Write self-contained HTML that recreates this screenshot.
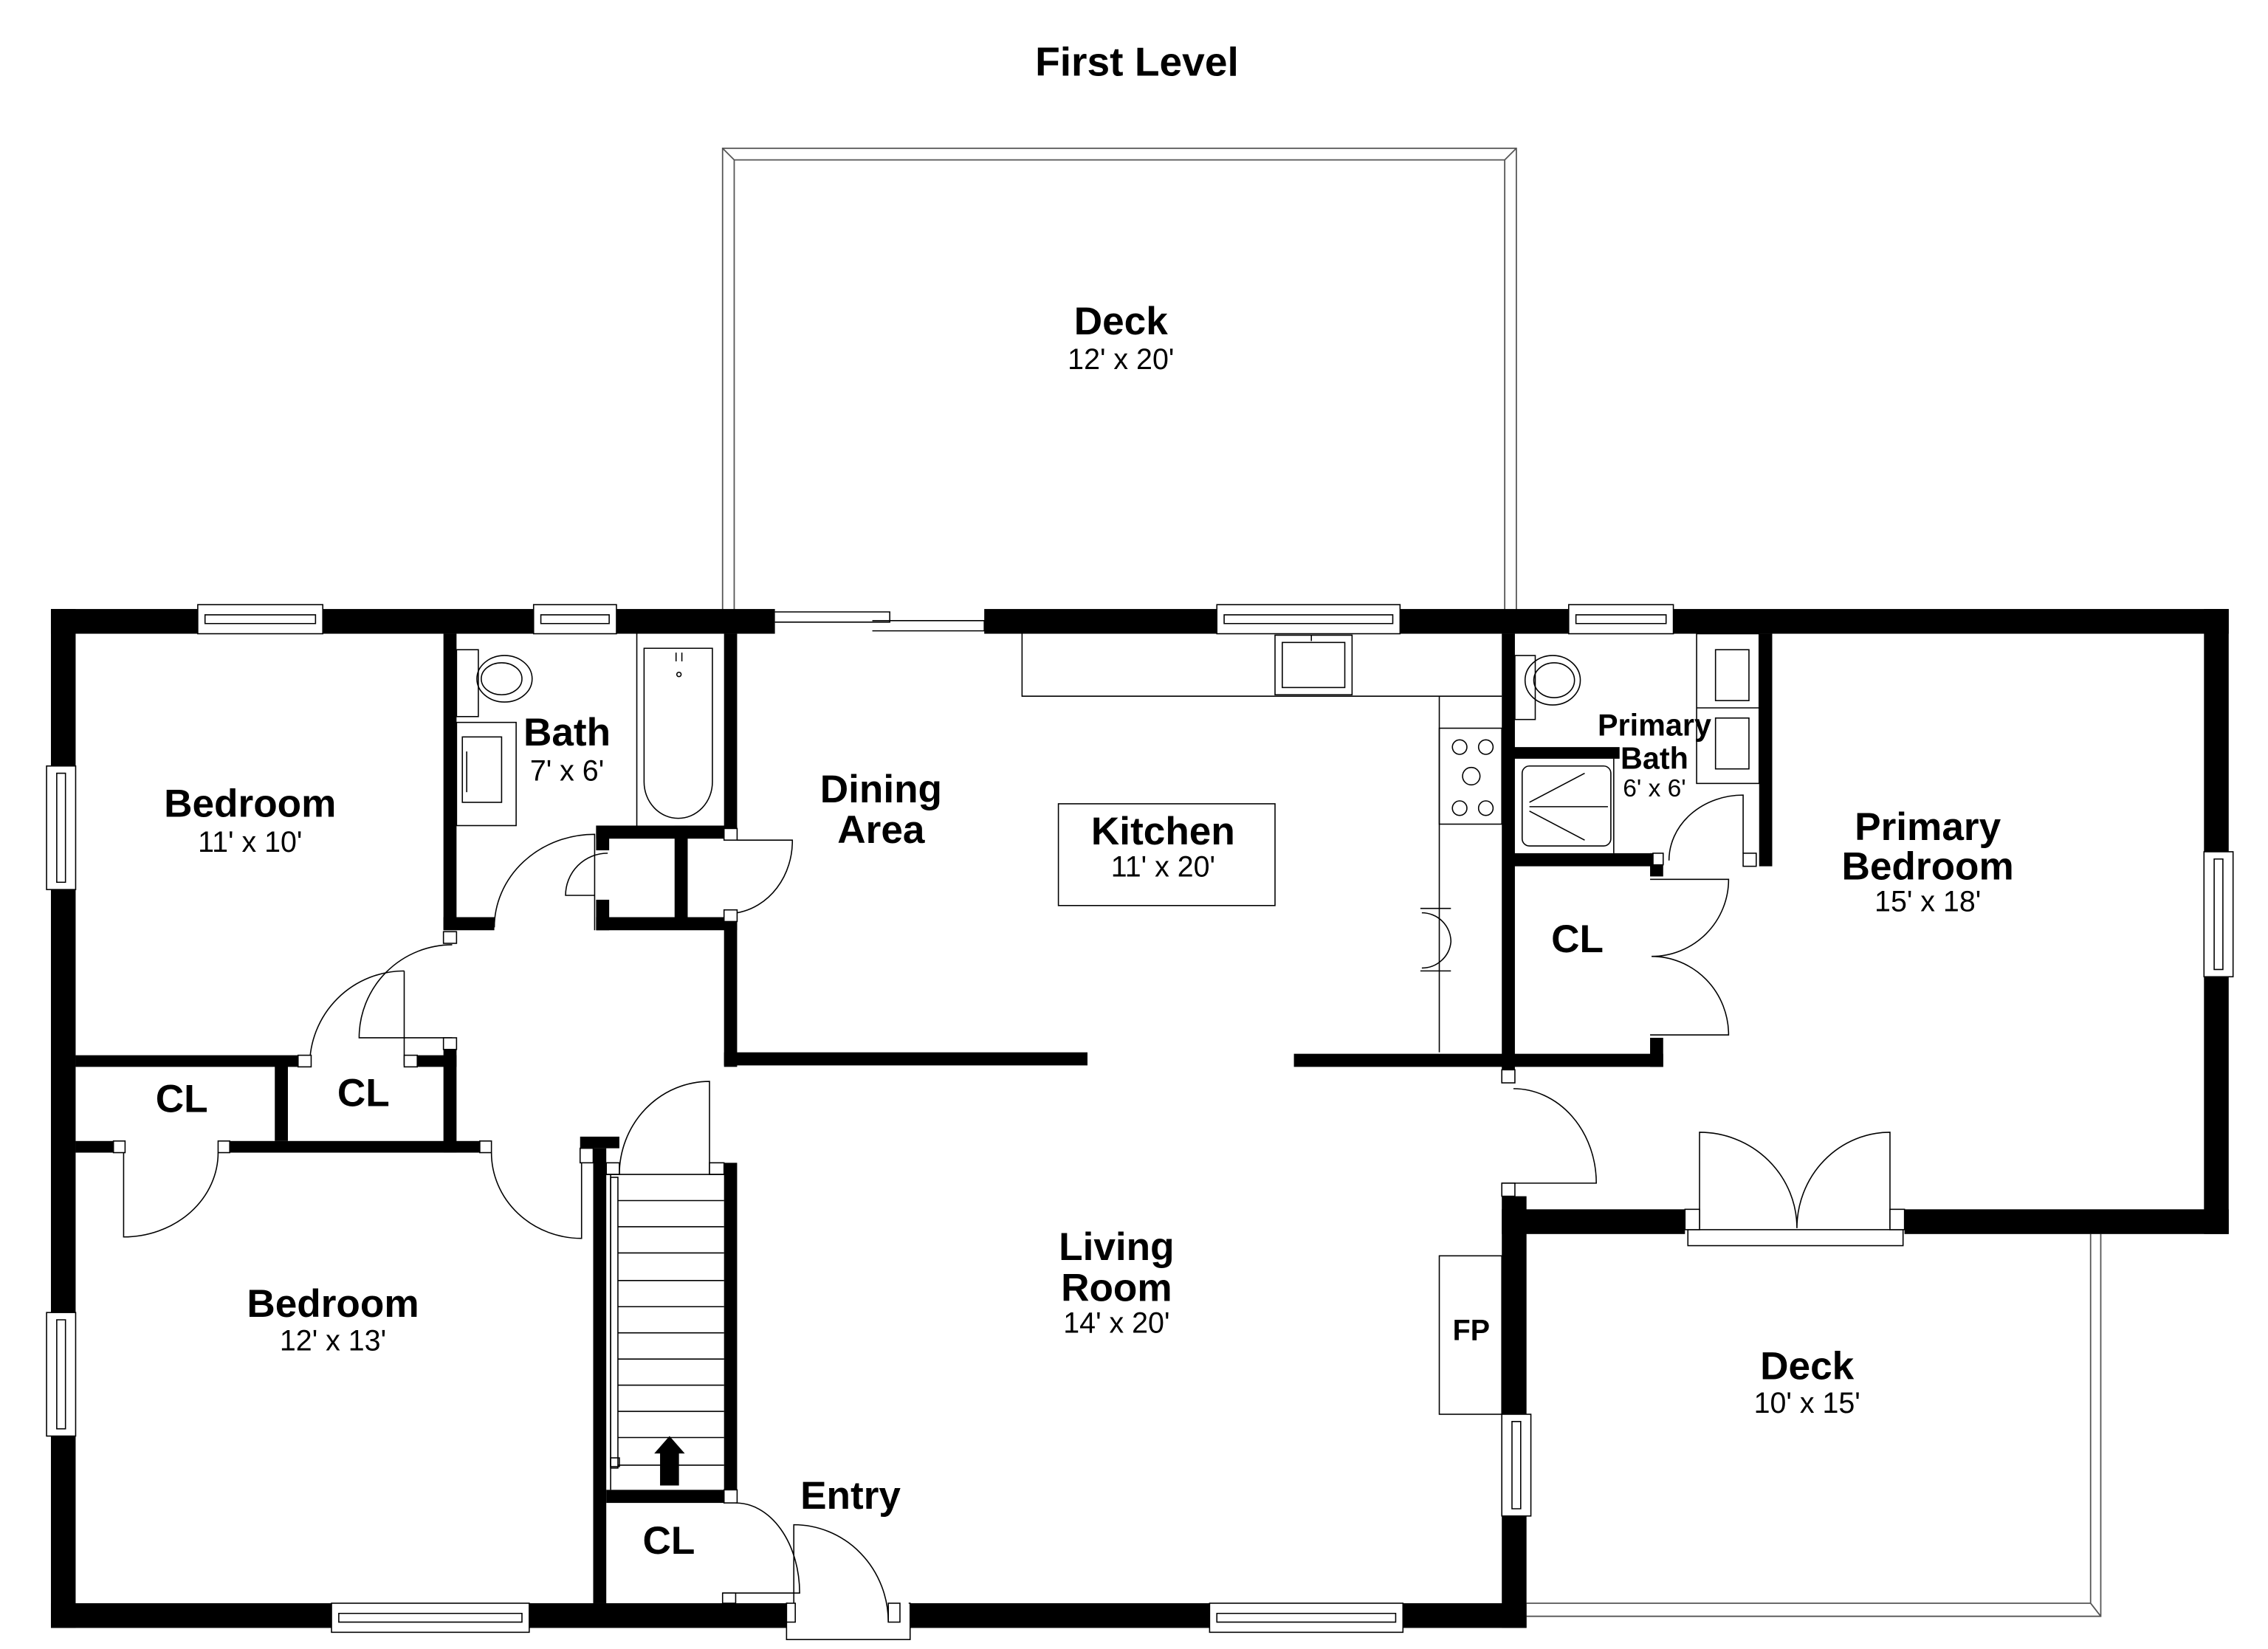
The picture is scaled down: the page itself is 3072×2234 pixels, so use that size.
<!DOCTYPE html>
<html><head><meta charset="utf-8"><style>
html,body{margin:0;padding:0;background:#fff;}
svg{display:block;}
text{font-family:"Liberation Sans",Arial,sans-serif;text-anchor:middle;fill:#000;}
.b{font-weight:bold;font-size:27px;}
.d{font-size:20px;}
.t{fill:none;stroke:#000;stroke-width:0.8;}
.g{fill:none;stroke:#555;stroke-width:0.9;}
.w{fill:#fff;stroke:#000;stroke-width:0.8;}
</style></head><body>
<svg width="3072" height="2234" viewBox="0 0 1560 1134.5" xmlns="http://www.w3.org/2000/svg">
<rect x="0" y="0" width="1560" height="1134.5" fill="#fff"/>
<text class="b" x="782" y="52" style="font-size:28px">First Level</text>

<!-- upper deck -->
<path class="g" d="M497,420 V102 H1043 V420 M505,420 V110 H1035 V420 M497,102 L505,110 M1043,102 L1035,110"/>
<!-- lower deck -->
<path class="g" d="M1050,1103 H1438 V849 M1050,1112 H1445 V849 M1438,1103 L1445,1112"/>

<!-- outer walls -->
<g fill="#000">
<rect x="35" y="419" width="498" height="17"/>
<rect x="677" y="419" width="856" height="17"/>
<rect x="35" y="419" width="17" height="701"/>
<rect x="35" y="1103" width="1015" height="17"/>
<rect x="1516" y="419" width="17" height="430"/>
<rect x="1033" y="832" width="500" height="17"/>
<rect x="1033" y="823" width="17" height="297"/>
<!-- interior -->
<rect x="305" y="436" width="9" height="204"/>
<rect x="305" y="631" width="35" height="9"/>
<rect x="305" y="714" width="9" height="79"/>
<rect x="287" y="726" width="27" height="8"/>
<rect x="52" y="726" width="153" height="8"/>
<rect x="189" y="733" width="9" height="52"/>
<rect x="52" y="785" width="26" height="8"/>
<rect x="158" y="785" width="178" height="8"/>
<rect x="498" y="436" width="9" height="134"/>
<rect x="410" y="568" width="97" height="9"/>
<rect x="410" y="568" width="9" height="17"/>
<rect x="410" y="619" width="9" height="21"/>
<rect x="464" y="568" width="9" height="70"/>
<rect x="410" y="631" width="97" height="9"/>
<rect x="498" y="633" width="9" height="101"/>
<rect x="498" y="724" width="250" height="9"/>
<rect x="890" y="725" width="254" height="9"/>
<rect x="1135" y="714" width="9" height="20"/>
<rect x="1033" y="436" width="9" height="309"/>
<rect x="1041" y="514" width="73" height="8"/>
<rect x="1041" y="587" width="96" height="9"/>
<rect x="1135" y="587" width="9" height="16"/>
<rect x="1210" y="436" width="9" height="160"/>
<rect x="408" y="790" width="9" height="313"/>
<rect x="498" y="800" width="9" height="234"/>
<rect x="417" y="1025" width="81" height="9"/>
<rect x="399" y="782" width="27" height="8"/>
</g>

<!-- windows top -->
<g>
<rect class="w" x="136" y="416" width="86" height="20"/><path class="t" d="M141,423 H217 V429 H141 Z"/>
<rect class="w" x="367" y="416" width="57" height="20"/><path class="t" d="M372,423 H419 V429 H372 Z"/>
<rect class="w" x="837" y="416" width="126" height="20"/><path class="t" d="M842,423 H958 V429 H842 Z"/>
<rect class="w" x="1079" y="416" width="72" height="20"/><path class="t" d="M1084,423 H1146 V429 H1084 Z"/>
<!-- left -->
<rect class="w" x="32" y="527" width="20" height="85"/><path class="t" d="M39,532 V607 H45 V532 Z"/>
<rect class="w" x="32" y="903" width="20" height="85"/><path class="t" d="M39,908 V983 H45 V908 Z"/>
<!-- right -->
<rect class="w" x="1516" y="586" width="20" height="86"/><path class="t" d="M1523,591 V667 H1529 V591 Z"/>
<rect class="w" x="1033" y="973" width="20" height="70"/><path class="t" d="M1040,978 V1038 H1046 V978 Z"/>
<!-- bottom -->
<rect class="w" x="228" y="1103" width="136" height="20"/><path class="t" d="M233,1110 H359 V1116 H233 Z"/>
<rect class="w" x="832" y="1103" width="133" height="20"/><path class="t" d="M837,1110 H960 V1116 H837 Z"/>
</g>

<!-- sliding door -->
<path class="t" d="M533,421 H612 V428 H533 M600,427 H677 V434 H600"/>

<!-- entry door -->
<rect class="w" x="541" y="1103" width="85" height="25"/>
<rect x="542" y="1100" width="83" height="16" fill="#fff"/>
<path class="t" d="M546,1116 V1049 A65,67 0 0 1 611,1116"/>
<rect class="w" x="541" y="1103" width="6" height="13"/><rect class="w" x="611" y="1103" width="8" height="13"/>

<!-- French doors -->
<rect x="1159" y="831" width="151" height="19" fill="#fff"/>
<rect class="w" x="1161" y="846" width="148" height="11"/>
<path class="t" d="M1169,845 V779 A67,66 0 0 1 1236,845 M1300,845 V779 A64,66 0 0 0 1236,845"/>
<rect class="w" x="1159" y="832" width="10" height="14"/><rect class="w" x="1300" y="832" width="10" height="14"/>

<!-- doors -->
<path class="t" d="M340,638 A69,64 0 0 1 409,574 V640"/>
<path class="t" d="M409,616 H389 A29,29 0 0 1 418,587"/>
<path class="t" d="M507,578 H545 A45,50 0 0 1 507,628"/>
<path class="t" d="M311,650 A64,64 0 0 0 247,714 H311"/>
<path class="t" d="M278,668 V733 M278,668 A65,65 0 0 0 213,733"/>
<path class="t" d="M85,793 V851 A65,58 0 0 0 150,793"/>
<path class="t" d="M400,793 V852 A62,59 0 0 1 338,793"/>
<path class="t" d="M488,808 V744 A62,64 0 0 0 426,808"/>
<path class="t" d="M506,1034 A44,62 0 0 1 550,1096 H497"/>
<path class="t" d="M1148,592 A51,45 0 0 1 1199,547 V587"/>
<path class="t" d="M1135,605 H1189 A53,53 0 0 1 1136,658 A53,54 0 0 1 1189,712 H1135"/>
<path class="t" d="M1041,749 A57,65 0 0 1 1098,814 H1033"/>
<!-- jamb squares -->
<g>
<rect class="w" x="305" y="641" width="9" height="8"/>
<rect class="w" x="205" y="726" width="9" height="8"/><rect class="w" x="278" y="726" width="9" height="8"/>
<rect class="w" x="305" y="714" width="9" height="8"/>
<rect class="w" x="78" y="785" width="8" height="8"/><rect class="w" x="150" y="785" width="8" height="8"/>
<rect class="w" x="330" y="785" width="8" height="8"/><rect class="w" x="399" y="790" width="9" height="10"/>
<rect class="w" x="498" y="570" width="9" height="8"/><rect class="w" x="498" y="626" width="9" height="8"/>
<rect class="w" x="417" y="800" width="9" height="8"/><rect class="w" x="488" y="800" width="10" height="8"/>
<rect class="w" x="498" y="1025" width="9" height="9"/><rect class="w" x="497" y="1096" width="9" height="7"/>
<rect class="w" x="1137" y="587" width="7" height="8"/><rect class="w" x="1199" y="587" width="9" height="9"/>
<rect class="w" x="1033" y="736" width="9" height="9"/><rect class="w" x="1033" y="814" width="9" height="9"/>
</g>

<!-- stairs -->
<path class="t" d="M417,808 H498 M420,808 V1025"/>
<g class="t">
<path d="M425,826 H498 M425,844 H498 M425,862 H498 M425,881 H498 M425,899 H498 M425,917 H498 M425,935 H498 M425,953 H498 M425,971 H498 M425,989 H498 M425,1008 H498"/>
<rect x="420" y="810" width="5" height="200"/>
<rect x="420" y="1003" width="6" height="6"/>
</g>
<path d="M454,1022 V1000 H450 L460.5,988 L471,1000 H467 V1022 Z" fill="#000"/>

<!-- bath fixtures -->
<path class="t" d="M438,436 V568"/>
<path class="t" d="M443,446 H490 V538 A23.5,25 0 0 1 443,538 Z"/>
<path class="t" d="M465,449 V455 M469,449 V455"/><circle class="t" cx="467" cy="464" r="1.5"/>
<rect class="t" x="314" y="447" width="15" height="46"/>
<ellipse class="t" cx="347" cy="467" rx="19" ry="16"/><ellipse class="t" cx="345" cy="467" rx="14" ry="11"/>
<rect class="t" x="314" y="497" width="41" height="71"/>
<rect class="t" x="318" y="507" width="27" height="45"/><path class="t" d="M321,517 V545"/>

<!-- kitchen -->
<path class="t" d="M703,436 V479 H990 V724 M990,479 H1033"/>
<rect class="t" x="877" y="437" width="53" height="41"/><rect class="t" x="882" y="442" width="43" height="31"/>
<path class="t" d="M902,437 V441"/>
<rect class="t" x="990" y="501" width="43" height="66"/>
<circle class="t" cx="1004" cy="514" r="5"/><circle class="t" cx="1022" cy="514" r="5"/>
<circle class="t" cx="1012" cy="534" r="6"/><circle class="t" cx="1004" cy="556" r="5"/><circle class="t" cx="1022" cy="556" r="5"/>
<path class="t" d="M977,625 H998 M977,668 H998 M998,648 A20,20 0 0 0 978,628 M998,648 A20,20 0 0 1 978,666"/>
<rect class="t" x="728" y="553" width="149" height="70"/>

<!-- primary bath fixtures -->
<rect class="t" x="1042" y="451" width="14" height="44"/>
<ellipse class="t" cx="1068" cy="468" rx="19" ry="17"/><ellipse class="t" cx="1069" cy="468" rx="14" ry="12"/>
<rect class="t" x="1047" y="527" width="61" height="55" rx="5"/>
<path class="t" d="M1052,552 L1090,532 M1052,555 H1106 M1052,558 L1090,578"/>
<path class="t" d="M1110,522 V587"/>
<rect class="t" x="1167" y="436" width="43" height="103"/><path class="t" d="M1167,487 H1210"/>
<rect class="t" x="1180" y="447" width="23" height="35"/><rect class="t" x="1180" y="494" width="23" height="35"/>

<!-- fireplace -->
<rect class="t" x="990" y="864" width="43" height="109"/>

<!-- labels -->
<text class="b" x="771" y="230">Deck</text><text class="d" x="771" y="254">12' x 20'</text>
<text class="b" x="172" y="562">Bedroom</text><text class="d" x="172" y="586">11' x 10'</text>
<text class="b" x="390" y="513">Bath</text><text class="d" x="390" y="537">7' x 6'</text>
<text class="b" x="606" y="552">Dining</text><text class="b" x="606" y="580">Area</text>
<text class="b" x="800" y="581">Kitchen</text><text class="d" x="800" y="603">11' x 20'</text>
<text class="b" x="1138" y="506" style="font-size:21px">Primary</text><text class="b" x="1138" y="529" style="font-size:21px">Bath</text><text class="d" x="1138" y="548" style="font-size:17px">6' x 6'</text>
<text class="b" x="1326" y="578">Primary</text><text class="b" x="1326" y="605">Bedroom</text><text class="d" x="1326" y="627">15' x 18'</text>
<text class="b" x="1085" y="655">CL</text>
<text class="b" x="125" y="765">CL</text>
<text class="b" x="250" y="761">CL</text>
<text class="b" x="460" y="1069">CL</text>
<text class="b" x="229" y="906">Bedroom</text><text class="d" x="229" y="929">12' x 13'</text>
<text class="b" x="768" y="867">Living</text><text class="b" x="768" y="895">Room</text><text class="d" x="768" y="917">14' x 20'</text>
<text class="b" x="1012" y="922" style="font-size:20px">FP</text>
<text class="b" x="1243" y="949">Deck</text><text class="d" x="1243" y="972">10' x 15'</text>
<text class="b" x="585" y="1038">Entry</text>
</svg>
</body></html>
